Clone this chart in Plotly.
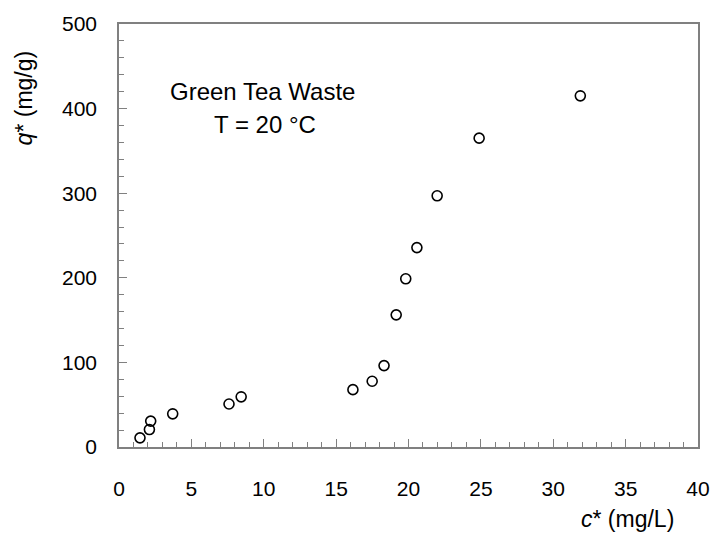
import plotly.graph_objects as go

# Data
c_star = [1.45, 2.10, 2.19, 3.71, 7.60, 8.44, 16.16, 17.49, 18.31, 19.15, 19.81, 20.58, 21.98, 24.88, 31.87]
q_star = [10.8, 20.6, 30.6, 39.2, 50.8, 59.3, 67.8, 77.7, 96.2, 156.2, 198.8, 235.7, 296.9, 365.1, 415.1]

x_ticks = [0, 5, 10, 15, 20, 25, 30, 35, 40]
y_ticks = [0, 100, 200, 300, 400, 500]

FONT = "Liberation Sans, Arial, sans-serif"
LINE = "#808080"

fig = go.Figure()
fig.add_trace(go.Scatter(
    x=c_star, y=q_star, mode="markers",
    marker=dict(symbol="circle-open", size=10, color="black", line=dict(width=1.6, color="black")),
    showlegend=False, hoverinfo="skip",
))

axis_common = dict(
    showgrid=False, zeroline=False, showline=True, linecolor=LINE, linewidth=1.5,
    mirror=True, ticks="inside", ticklen=8, tickcolor=LINE, tickwidth=1,
    tickfont=dict(family=FONT, size=21, color="black"),
)

fig.update_xaxes(range=[0, 40], tickvals=x_ticks, ticktext=[str(v) for v in x_ticks],
                 minor=dict(ticks="inside", dtick=1, ticklen=5, tickcolor=LINE),
                 ticklabelstandoff=22, **axis_common)
fig.update_yaxes(range=[0, 500], tickvals=y_ticks, ticktext=[str(v) for v in y_ticks],
                 minor=dict(ticks="inside", dtick=20, ticklen=5, tickcolor=LINE),
                 ticklabelstandoff=16, **axis_common)

ann_font = dict(family=FONT, size=24, color="black")
title_font = dict(family=FONT, size=23, color="black")
fig.update_layout(
    width=722, height=535,
    margin=dict(l=119, r=14, t=17, b=88),
    paper_bgcolor="white", plot_bgcolor="white",
    annotations=[
        dict(text="Green Tea Waste", x=0.248, y=0.8395, xref="paper", yref="paper",
             showarrow=False, font=ann_font, xanchor="center", yanchor="middle"),
        dict(text="T = 20 °C", x=0.252, y=0.763, xref="paper", yref="paper",
             showarrow=False, font=ann_font, xanchor="center", yanchor="middle"),
        dict(text="<i>q</i>* (mg/g)", x=-0.1647, y=0.8256, xref="paper", yref="paper",
             showarrow=False, font=title_font, textangle=-90, xanchor="center", yanchor="middle"),
        dict(text="<i>c</i>* (mg/L)", x=0.879, y=-0.1698, xref="paper", yref="paper",
             showarrow=False, font=title_font, xanchor="center", yanchor="middle"),
    ],
)

fig.write_html("out.html", config={"displayModeBar": False},
               post_script="document.body.style.margin='0';document.body.style.padding='0';")
